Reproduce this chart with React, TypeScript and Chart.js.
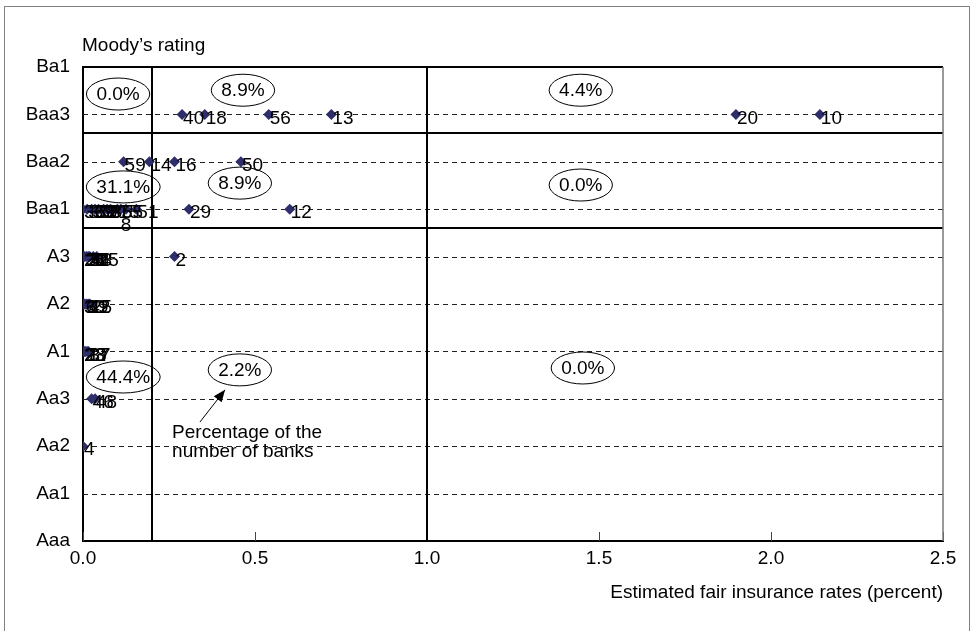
import React, { useEffect, useRef } from 'react';
import { Chart, registerables } from 'chart.js';

Chart.register(...registerables);

// Rating categories (y axis, bottom to top)
const ratingLabels = ['Aaa', 'Aa1', 'Aa2', 'Aa3', 'A1', 'A2', 'A3', 'Baa1', 'Baa2', 'Baa3', 'Ba1'];
const xTickValues = [0, 0.5, 1.0, 1.5, 2.0, 2.5];

// Bank ids and estimated fair insurance rates (percent), per rating
const baa3Ids = ['40', '18', '56', '13', '20', '10'];
const baa3Rates = [0.288, 0.354, 0.54, 0.722, 1.898, 2.142];

const baa2Ids = ['59', '14', '16', '50'];
const baa2Rates = [0.118, 0.193, 0.266, 0.459];

const baa1Ids = ['36', '3', '33', '38', '53', '9', '27', '35', '8', '15', '55', '51', '29', '12'];
const baa1Rates = [0.0, 0.012, 0.025, 0.035, 0.045, 0.06, 0.07, 0.08, 0.125, 0.1, 0.11, 0.155, 0.308, 0.601];

const a3Ids = ['26', '31', '22', '34', '43', '5', '45', '2'];
const a3Rates = [0.0, 0.005, 0.01, 0.015, 0.02, 0.03, 0.04, 0.266];

const a2Ids = ['30', '6', '39', '42', '25'];
const a2Rates = [0.0, 0.005, 0.01, 0.015, 0.02];

const a1Ids = ['23', '28', '7', '17', '37'];
const a1Rates = [0.0, 0.004, 0.008, 0.012, 0.016];

const aa3Ids = ['46', '48'];
const aa3Rates = [0.025, 0.035];

const aa2Ids = ['4'];
const aa2Rates = [0.0];

// Share of the number of banks in each region
const shareLabels = ['0.0%', '8.9%', '4.4%', '31.1%', '8.9%', '0.0%', '44.4%', '2.2%', '0.0%'];
// Where those share labels sit (data coordinates)
const shareAtRate = [0.102, 0.465, 1.447, 0.117, 0.456, 1.447, 0.117, 0.456, 1.453];
const shareAtRating = [9.43, 9.51, 9.51, 7.47, 7.55, 7.51, 3.46, 3.61, 3.65];

// Region boundaries
const rateThresholds = [0.2, 1.0];
const ratingThresholds = [6.6, 8.6];

const groups = [
  { rating: 'Baa3', ids: baa3Ids, rates: baa3Rates },
  { rating: 'Baa2', ids: baa2Ids, rates: baa2Rates },
  { rating: 'Baa1', ids: baa1Ids, rates: baa1Rates },
  { rating: 'A3', ids: a3Ids, rates: a3Rates },
  { rating: 'A2', ids: a2Ids, rates: a2Rates },
  { rating: 'A1', ids: a1Ids, rates: a1Rates },
  { rating: 'Aa3', ids: aa3Ids, rates: aa3Rates },
  { rating: 'Aa2', ids: aa2Ids, rates: aa2Rates },
];

const points: { x: number; y: number; id: string }[] = [];
groups.forEach((g) => {
  const yv = ratingLabels.indexOf(g.rating);
  g.ids.forEach((id, i) => points.push({ x: g.rates[i], y: yv, id }));
});

const FONT = '"Liberation Sans", Arial, sans-serif';
const FS = 19;
const labelBelow = new Set(['8']);

const overlay = {
  id: 'overlay',
  beforeDatasetsDraw(chart: any) {
    const { ctx, chartArea: a, scales } = chart;
    const x = scales.x;
    const y = scales.y;
    ctx.save();
    // dashed grid lines
    ctx.strokeStyle = '#222';
    ctx.lineWidth = 1;
    ctx.setLineDash([5, 4]);
    for (let v = 1; v <= 9; v++) {
      const py = Math.round(y.getPixelForValue(v)) + 0.5;
      ctx.beginPath();
      ctx.moveTo(a.left, py);
      ctx.lineTo(a.right, py);
      ctx.stroke();
    }
    ctx.setLineDash([]);
    // x tick marks (inside)
    ctx.strokeStyle = '#444';
    ctx.lineWidth = 1;
    xTickValues.forEach((v) => {
      const px = Math.round(x.getPixelForValue(v)) + 0.5;
      ctx.beginPath();
      ctx.moveTo(px, a.bottom);
      ctx.lineTo(px, a.bottom - 9);
      ctx.stroke();
    });
    // region boundaries
    ctx.strokeStyle = '#000';
    ctx.lineWidth = 2;
    ratingThresholds.forEach((v) => {
      const py = Math.round(y.getPixelForValue(v));
      ctx.beginPath();
      ctx.moveTo(a.left, py);
      ctx.lineTo(a.right, py);
      ctx.stroke();
    });
    rateThresholds.forEach((v) => {
      const px = Math.round(x.getPixelForValue(v));
      ctx.beginPath();
      ctx.moveTo(px, a.top);
      ctx.lineTo(px, a.bottom);
      ctx.stroke();
    });
    // top border
    ctx.beginPath();
    ctx.moveTo(a.left, a.top);
    ctx.lineTo(a.right, a.top);
    ctx.stroke();
    // right border
    ctx.strokeStyle = '#777';
    ctx.lineWidth = 1.5;
    ctx.beginPath();
    ctx.moveTo(a.right, a.top);
    ctx.lineTo(a.right, a.bottom);
    ctx.stroke();
    ctx.restore();
  },
  afterDatasetsDraw(chart: any) {
    const { ctx, chartArea: a, scales } = chart;
    const x = scales.x;
    const y = scales.y;
    ctx.save();
    ctx.font = `${FS}px ${FONT}`;
    ctx.fillStyle = '#000';
    // point labels
    const meta = chart.getDatasetMeta(0);
    meta.data.forEach((el: any, i: number) => {
      const id = points[i].id;
      if (labelBelow.has(id)) {
        ctx.textAlign = 'center';
        ctx.textBaseline = 'middle';
        ctx.fillText(id, el.x, el.y + 17);
      } else {
        ctx.textAlign = 'left';
        ctx.textBaseline = 'middle';
        ctx.fillText(id, el.x + 1, el.y + 4);
      }
    });
    // share ellipses
    ctx.strokeStyle = '#000';
    ctx.lineWidth = 1;
    ctx.textAlign = 'center';
    ctx.textBaseline = 'middle';
    shareLabels.forEach((t, i) => {
      const cx = x.getPixelForValue(shareAtRate[i]);
      const cy = y.getPixelForValue(shareAtRating[i]);
      const w = Math.max(62, ctx.measureText(t).width + 20);
      const h = 32;
      ctx.beginPath();
      ctx.ellipse(cx, cy, w / 2, h / 2, 0, 0, Math.PI * 2);
      ctx.stroke();
      ctx.fillText(t, cx, cy + 1);
    });
    // annotation arrow
    const ax0 = x.getPixelForValue(0.34);
    const ay0 = y.getPixelForValue(2.51);
    const ax1 = x.getPixelForValue(0.413);
    const ay1 = y.getPixelForValue(3.19);
    ctx.beginPath();
    ctx.moveTo(ax0, ay0);
    ctx.lineTo(ax1, ay1);
    ctx.stroke();
    const ang = Math.atan2(ay1 - ay0, ax1 - ax0);
    const hl = 12;
    const hw = 5;
    ctx.beginPath();
    ctx.moveTo(ax1, ay1);
    ctx.lineTo(ax1 - hl * Math.cos(ang) + hw * Math.sin(ang), ay1 - hl * Math.sin(ang) - hw * Math.cos(ang));
    ctx.lineTo(ax1 - hl * Math.cos(ang) - hw * Math.sin(ang), ay1 - hl * Math.sin(ang) + hw * Math.cos(ang));
    ctx.closePath();
    ctx.fill();
    // annotation text
    ctx.textAlign = 'left';
    ctx.textBaseline = 'middle';
    const tx = x.getPixelForValue(0.259);
    const ty = y.getPixelForValue(2.28);
    ctx.fillText('Percentage of the', tx, ty);
    ctx.fillText('number of banks', tx, ty + 19);
    // axis titles
    ctx.fillText('Moody\u2019s rating', a.left - 1, 46);
    ctx.textAlign = 'right';
    ctx.fillText('Estimated fair insurance rates (percent)', a.right, 593);
    // outer frame
    ctx.strokeStyle = '#808080';
    ctx.lineWidth = 1;
    ctx.strokeRect(4.5, 6.5, 965, 640);
    ctx.restore();
  },
};

export default function App() {
  const ref = useRef<HTMLCanvasElement>(null);
  useEffect(() => {
    if (!ref.current) return;
    const chart = new Chart(ref.current, {
      type: 'scatter',
      data: {
        datasets: [
          {
            data: points.map((p) => ({ x: p.x, y: p.y })),
            pointStyle: 'rectRot',
            pointRadius: 5.5,
            backgroundColor: '#2e2e6b',
            borderColor: '#2e2e6b',
            borderWidth: 0,
            showLine: false,
          },
        ],
      },
      options: {
        responsive: false,
        animation: false,
        events: [],
        layout: { padding: { left: 0, top: 67, right: 33, bottom: 0 } },
        plugins: { legend: { display: false }, tooltip: { enabled: false } },
        scales: {
          x: {
            type: 'linear',
            min: 0,
            max: 2.5,
            afterFit: (s: any) => {
              s.height = 90;
            },
            ticks: {
              stepSize: 0.5,
              callback: (v: any) => Number(v).toFixed(1),
              font: { family: FONT, size: FS },
              color: '#000',
              padding: 6,
              maxRotation: 0,
            },
            grid: { display: false, drawTicks: false },
            border: { display: true, color: '#000', width: 2 },
          },
          y: {
            type: 'linear',
            min: 0,
            max: 10,
            afterFit: (s: any) => {
              s.width = 83;
            },
            ticks: {
              stepSize: 1,
              callback: (v: any) => ratingLabels[Number(v)] ?? '',
              font: { family: FONT, size: FS },
              color: '#000',
              padding: 13,
            },
            grid: { display: false, drawTicks: false },
            border: { display: true, color: '#000', width: 2 },
          },
        },
      },
      plugins: [overlay],
    } as any);
    return () => chart.destroy();
  }, []);
  return (
    <div style={{ position: 'fixed', left: 0, top: 0, width: 976, height: 631, background: '#fff' }}>
      <canvas ref={ref} width={976} height={631} style={{ display: 'block' }} />
    </div>
  );
}
